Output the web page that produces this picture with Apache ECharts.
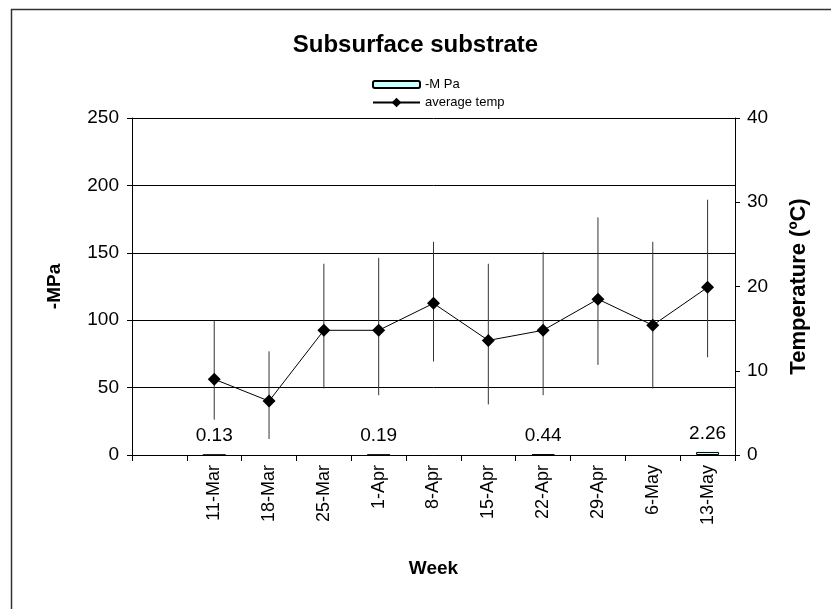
<!DOCTYPE html>
<html>
<head>
<meta charset="utf-8">
<title>Subsurface substrate</title>
<script src="https://cdn.jsdelivr.net/npm/echarts@6/dist/echarts.min.js"></script>
<style>
  html, body { margin: 0; padding: 0; background: #fff; }
  #chart { width: 831px; height: 609px; }
</style>
</head>
<body>
<div id="chart"></div>
<script>
// week labels (first slot is empty in the original sheet)
var weeks = ['', '11-Mar', '18-Mar', '25-Mar', '1-Apr', '8-Apr', '15-Apr', '22-Apr', '29-Apr', '6-May', '13-May'];
// -MPa bars, only 4 weeks measured
var mpa = [null, 0.13, null, null, 0.19, null, null, 0.44, null, null, 2.26];
// average temperature and its range
var avgTemp = [null, 9.0, 6.4, 14.8, 14.8, 18.0, 13.6, 14.8, 18.5, 15.4, 19.9];
var tempLow = [null, 4.2, 1.9, 7.9, 7.1, 11.1, 6.0, 7.1, 10.7, 7.9, 11.6];
var tempHigh = [null, 15.9, 12.3, 22.7, 23.4, 25.3, 22.7, 24.1, 28.2, 25.3, 30.3];

var font = 'Liberation Sans, Arial, sans-serif';

var errData = [];
for (var i = 0; i < weeks.length; i++) {
    if (tempLow[i] != null) errData.push([i, tempLow[i], tempHigh[i]]);
}

var chart = echarts.init(document.getElementById('chart'));

var option = {
    animation: false,
    textStyle: { fontFamily: font, color: '#000' },
    title: {
        text: 'Subsurface substrate',
        left: 'center',
        top: 28,
        textStyle: { fontFamily: font, fontSize: 24, fontWeight: 'bold', color: '#000' }
    },
    graphic: [{
        type: 'rect',
        left: 9, top: 7,
        shape: { width: 900, height: 700 },
        style: { fill: 'none', stroke: '#333', lineWidth: 1.5 },
        silent: true
    }],
    legend: [{
        data: ['-M Pa'],
        left: 367, top: 73,
        itemWidth: 47, itemHeight: 7,
        textStyle: { fontFamily: font, fontSize: 13, color: '#000' }
    }, {
        data: ['average temp'],
        left: 367, top: 91,
        itemWidth: 47, itemHeight: 12,
        textStyle: { fontFamily: font, fontSize: 13, color: '#000' }
    }],
    grid: { left: 132, right: 96, top: 118, bottom: 154 },
    xAxis: {
        type: 'category',
        data: weeks,
        name: 'Week',
        nameLocation: 'middle',
        nameGap: 104,
        nameTextStyle: { fontFamily: font, fontSize: 19, fontWeight: 'bold', color: '#000' },
        axisLine: { lineStyle: { color: '#000', width: 1 } },
        axisTick: { show: true, interval: 0, length: 6, lineStyle: { color: '#000' } },
        axisLabel: { interval: 0, rotate: 90, fontSize: 18, color: '#000', margin: 10 }
    },
    yAxis: [{
        type: 'value',
        min: 0, max: 250, interval: 50,
        name: '-MPa',
        nameLocation: 'middle',
        nameRotate: 90,
        nameGap: 68,
        nameTextStyle: { fontFamily: font, fontSize: 19, fontWeight: 'bold', color: '#000' },
        axisLine: { show: true, lineStyle: { color: '#000' } },
        axisTick: { show: true, length: 5, lineStyle: { color: '#000' } },
        axisLabel: { fontSize: 19, color: '#000', margin: 13 },
        splitLine: { show: true, lineStyle: { color: '#000', width: 1 } }
    }, {
        type: 'value',
        min: 0, max: 40, interval: 10,
        position: 'right',
        name: 'Temperature (ºC)',
        nameLocation: 'middle',
        nameRotate: 90,
        nameGap: 53,
        nameTextStyle: { fontFamily: font, fontSize: 22, fontWeight: 'bold', color: '#000' },
        axisLine: { show: true, lineStyle: { color: '#000' } },
        axisTick: { show: true, length: 5, lineStyle: { color: '#000' } },
        axisLabel: { fontSize: 19, color: '#000', margin: 12 },
        splitLine: { show: false }
    }],
    series: [{
        name: '-M Pa',
        type: 'bar',
        data: mpa,
        barWidth: 23,
        itemStyle: { color: '#ccffff', borderColor: '#000', borderWidth: 1 },
        label: { show: true, position: 'top', distance: 9, fontSize: 19, color: '#000' }
    }, {
        name: 'errbars',
        type: 'custom',
        yAxisIndex: 1,
        data: errData,
        silent: true,
        z: 3,
        renderItem: function (params, api) {
            var lo = api.coord([api.value(0), api.value(1)]);
            var hi = api.coord([api.value(0), api.value(2)]);
            return {
                type: 'line',
                shape: { x1: lo[0], y1: lo[1], x2: hi[0], y2: hi[1] },
                style: { stroke: '#333', lineWidth: 1 }
            };
        }
    }, {
        name: 'average temp',
        type: 'line',
        yAxisIndex: 1,
        data: avgTemp,
        z: 4,
        symbol: 'diamond',
        symbolSize: 13,
        lineStyle: { color: '#000', width: 1 },
        itemStyle: { color: '#000' }
    }]
};

chart.setOption(option);
</script>
</body>
</html>
